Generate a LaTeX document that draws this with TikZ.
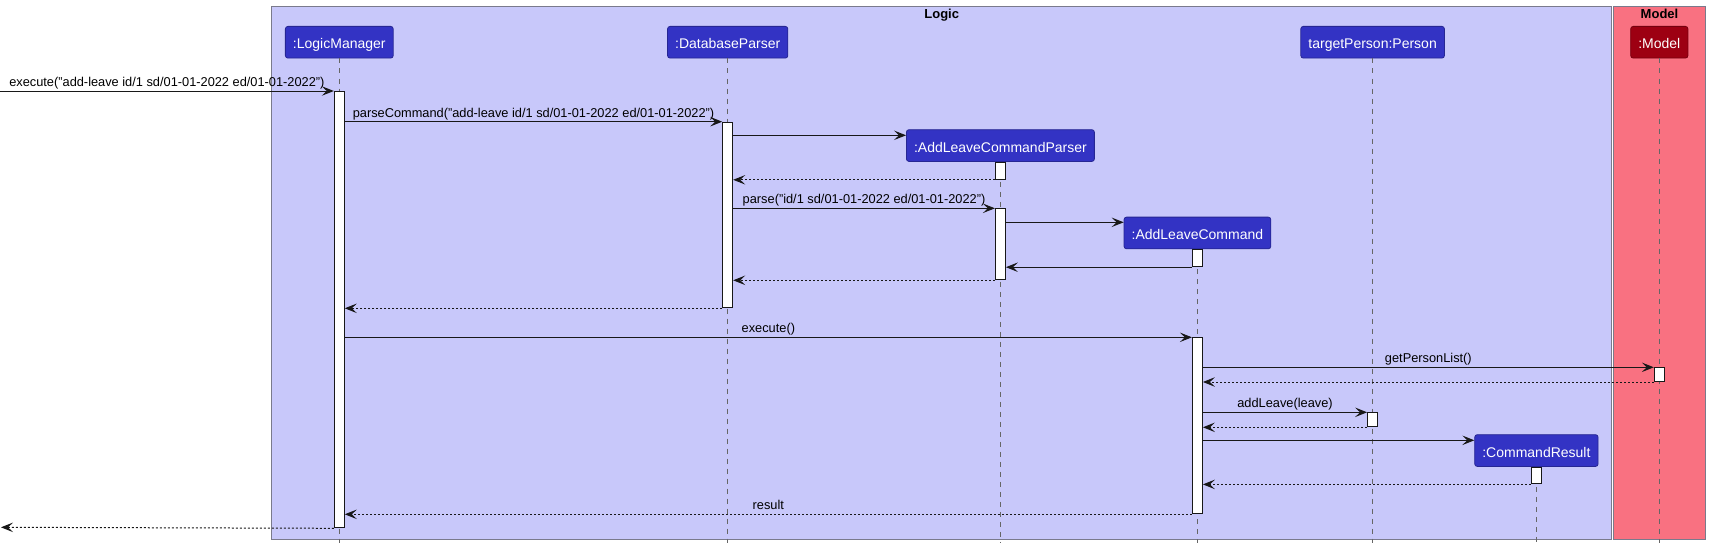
\documentclass[tikz,border=0pt]{standalone}
\usepackage{fontspec}
\setmainfont{Liberation Sans}
\usetikzlibrary{positioning,arrows.meta}
\definecolor{logicblue}{HTML}{3333C4}
\definecolor{logicpale}{HTML}{C8C8FA}
\definecolor{modelred}{HTML}{9D0012}
\definecolor{modelpale}{HTML}{F97181}
\definecolor{groupline}{HTML}{7A7A8C}
\definecolor{lineblack}{HTML}{181818}

\begin{document}
\begin{tikzpicture}[
    x=1pt, y=-1pt,
    group/.style={draw=groupline, line width=0.9pt},
    grouptitle/.style={anchor=base, inner sep=0pt, font=\fontsize{13}{15}\selectfont\bfseries},
    obj/.style={draw=logicblue!75!black, fill=logicblue, text=white, rounded corners=2.5pt, anchor=north, minimum height=31.7pt, inner xsep=7.6pt, inner ysep=0pt, text height=14pt, text depth=1pt, line width=0.8pt, font=\fontsize{14}{16}\selectfont},
    modelobj/.style={obj, draw=modelred!75!black, fill=modelred},
    actbar/.style={draw=lineblack, fill=white, anchor=north, minimum width=10pt, inner sep=0pt, line width=1pt},
    lifeline/.style={draw=black!60, dash pattern=on 5pt off 5pt, line width=0.8pt},
    msg/.style={draw=lineblack, line width=1pt, -{Stealth[length=12pt, width=9.5pt, inset=5pt]}},
    reply/.style={msg, dash pattern=on 2pt off 2pt},
    msgtext/.style={midway, anchor=base, yshift=4.7pt, inner sep=0pt, font=\fontsize{12.8}{15}\selectfont}
]
\useasboundingbox (0,0) rectangle (1710,551);

% packages
\draw[group, fill=logicpale] (271.7,6) rectangle (1611.7,539);
\draw[group, fill=modelpale] (1613.3,6) rectangle (1705.7,539);
\node[grouptitle] (logictitle) at (941.7,19) {Logic};
\node[grouptitle] (modeltitle) at (1659.5,19) {Model};

% participants
\node[obj] (lm) at (339.3,26) {:LogicManager};
\node[obj] (db) at (727.7,26) {:DatabaseParser};
\node[obj] (tp) at (1372.6,26) {targetPerson:Person};
\node[modelobj] (model) at (1659.3,26) {:Model};
\node[obj] (alcp) at (1000.4,129.3) {:AddLeaveCommandParser};
\node[obj] (alc) at (1197.4,216.7) {:AddLeaveCommand};
\node[obj] (cr) at (1536.4,434.3) {:CommandResult};

\coordinate (bottom) at (0,543.3);
\coordinate (start) at (0,91);
\coordinate (finish) at (1,527.3);

\foreach \p in {lm,db,tp,model,alcp,alc,cr}
    \draw[lifeline] (\p.south) -- (\p.south |- bottom);

% activations
\node[actbar, minimum height=436.3pt] (lmbar) at (339.3,91) {};
\node[actbar, minimum height=185.6pt] (dbbar) at (727.7,121.7) {};
\node[actbar, minimum height=17pt] (alcpbar1) at (alcp.south) {};
\node[actbar, minimum height=71pt] (alcpbar2) at (1000.4,208.3) {};
\node[actbar, minimum height=17pt] (alcbar1) at (alc.south) {};
\node[actbar, minimum height=176pt] (alcbar2) at (1197.4,337.3) {};
\node[actbar, minimum height=13.7pt] (modelbar) at (1659.3,367.3) {};
\node[actbar, minimum height=14pt] (tpbar) at (1372.6,412.3) {};
\node[actbar, minimum height=16.6pt] (crbar) at (cr.south) {};

\coordinate (alcpin) at ([yshift=-6pt]alcp.north west);
\coordinate (alcin) at ([yshift=-5.6pt]alc.north west);
\coordinate (crin) at ([yshift=-6pt]cr.north west);

% messages
\draw[msg] (start) -- (lmbar.north west) node[msgtext] {execute("add-leave id/1 sd/01-01-2022 ed/01-01-2022")};
\draw[msg] (lmbar.east |- dbbar.north) -- (dbbar.north west) node[msgtext] {parseCommand("add-leave id/1 sd/01-01-2022 ed/01-01-2022")};
\draw[msg] (dbbar.east |- alcpin) -- (alcpin);
\draw[reply] (alcpbar1.south west) -- (dbbar.east |- alcpbar1.south west);
\draw[msg] (dbbar.east |- alcpbar2.north) -- (alcpbar2.north west) node[msgtext] {parse("id/1 sd/01-01-2022 ed/01-01-2022")};
\draw[msg] (alcpbar2.east |- alcin) -- (alcin);
\draw[msg] (alcbar1.south west) -- (alcpbar2.east |- alcbar1.south west);
\draw[reply] (alcpbar2.south west) -- (dbbar.east |- alcpbar2.south west);
\draw[reply] (dbbar.south west) -- (lmbar.east |- dbbar.south west);
\draw[msg] (lmbar.east |- alcbar2.north) -- (alcbar2.north west) node[msgtext] {execute()};
\draw[msg] (alcbar2.east |- modelbar.north) -- (modelbar.north west) node[msgtext] {getPersonList()};
\draw[reply] (modelbar.south west) -- (alcbar2.east |- modelbar.south west);
\draw[msg] (alcbar2.east |- tpbar.north) -- (tpbar.north west) node[msgtext] {addLeave(leave)};
\draw[reply] (tpbar.south west) -- (alcbar2.east |- tpbar.south west);
\draw[msg] (alcbar2.east |- crin) -- (crin);
\draw[reply] (crbar.south west) -- (alcbar2.east |- crbar.south west);
\draw[reply] (alcbar2.south west) -- (lmbar.east |- alcbar2.south west) node[msgtext] {result};
\draw[reply] (lmbar.south west) -- (finish);

\end{tikzpicture}
\end{document}
